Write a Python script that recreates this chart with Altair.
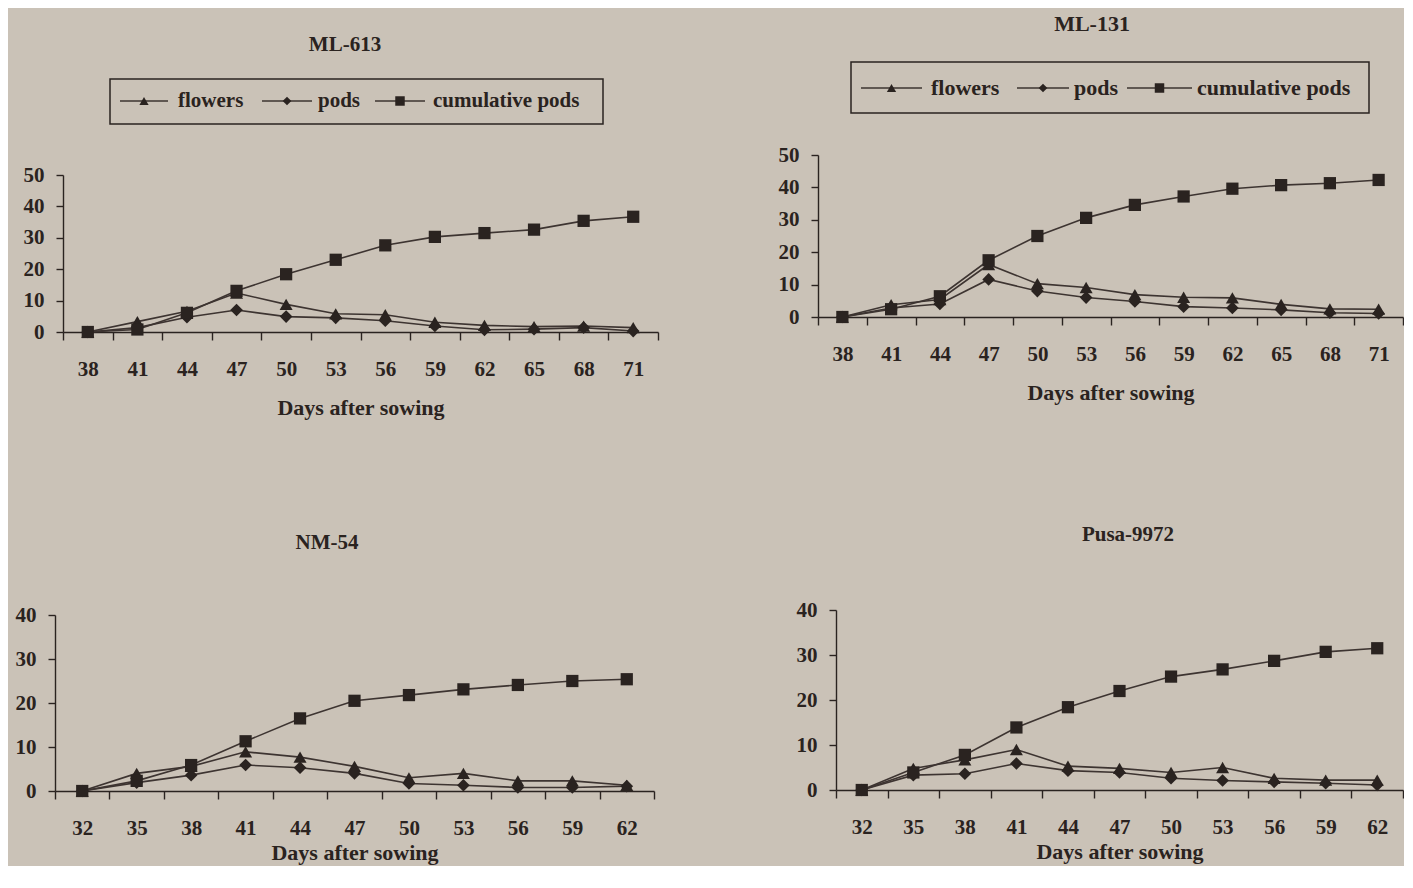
import altair as alt
import pandas as pd

# ---------------- data ----------------
SERIES = ["flowers", "pods", "cumulative pods"]
SHAPES = ["triangle-up", "diamond", "square"]

days_ml = [38, 41, 44, 47, 50, 53, 56, 59, 62, 65, 68, 71]
days_nm = [32, 35, 38, 41, 44, 47, 50, 53, 56, 59, 62]

ml613_flowers = [0, 3.3, 6.6, 12.4, 8.8, 5.8, 5.5, 3.1, 2.1, 1.7, 1.9, 1.4]
ml613_pods = [0, 1.4, 4.7, 7.0, 4.9, 4.5, 3.6, 1.9, 0.7, 0.9, 1.4, 0.3]
ml613_cumulative = [0, 0.8, 6.1, 13.1, 18.4, 23.0, 27.6, 30.3, 31.5, 32.6, 35.4, 36.7]

ml131_flowers = [0, 3.8, 5.4, 16.2, 10.3, 9.1, 6.9, 6.1, 5.9, 3.9, 2.5, 2.4]
ml131_pods = [0, 2.8, 4.0, 11.6, 8.0, 6.0, 4.8, 3.2, 2.8, 2.2, 1.3, 1.1]
ml131_cumulative = [0, 2.4, 6.4, 17.5, 25.0, 30.6, 34.6, 37.2, 39.6, 40.7, 41.3, 42.3]

nm54_flowers = [0, 4.0, 5.6, 8.9, 7.7, 5.6, 3.0, 4.0, 2.3, 2.3, 1.3]
nm54_pods = [0, 1.9, 3.6, 5.9, 5.3, 4.0, 1.7, 1.3, 0.8, 0.8, 1.1]
nm54_cumulative = [0, 2.3, 5.9, 11.3, 16.5, 20.5, 21.8, 23.1, 24.1, 25.0, 25.4]

pusa_flowers = [0, 4.8, 6.7, 9.0, 5.3, 4.8, 3.9, 5.0, 2.6, 2.2, 2.2]
pusa_pods = [0, 3.3, 3.6, 5.9, 4.3, 3.9, 2.6, 2.1, 1.8, 1.5, 1.1]
pusa_cumulative = [0, 3.9, 7.8, 13.9, 18.4, 22.0, 25.2, 26.8, 28.7, 30.7, 31.5]

# ---------------- styling ----------------
FONT = "Liberation Serif"
BG = "#cac2b7"
INK = "#2a2320"
LINE = "#3d3431"
SIZES = [170, 150, 150]
LEG_SIZES = [85, 75, 90]


def long_df(days, series_values):
    rows = []
    for name, vals in zip(SERIES, series_values):
        for d, v in zip(days, vals):
            rows.append({"day": d, "series": name, "value": v})
    return pd.DataFrame(rows)


def legend_layers(box, cy, items, fs):
    out = [
        alt.Chart(pd.DataFrame({"b": [0]}))
        .mark_rect(fillOpacity=0, stroke=INK, strokeWidth=1.5)
        .encode(x=alt.value(box[0]), x2=alt.value(box[1]),
                y=alt.value(box[2]), y2=alt.value(box[3]))
    ]
    for name, shape, size, (r0, r1, tx) in zip(SERIES, SHAPES, LEG_SIZES, items):
        one = pd.DataFrame({"series": [name]})
        out.append(
            alt.Chart(one).mark_rule(color=LINE, strokeWidth=1.6)
            .encode(x=alt.value(r0), x2=alt.value(r1), y=alt.value(cy))
        )
        out.append(
            alt.Chart(one).mark_point(shape=shape, size=size, filled=True,
                                      color=INK, opacity=1)
            .encode(x=alt.value((r0 + r1) / 2), y=alt.value(cy))
        )
        out.append(
            alt.Chart(one).mark_text(align="left", baseline="middle", font=FONT,
                                     fontSize=fs, fontWeight="bold", color=INK)
            .encode(x=alt.value(tx), y=alt.value(cy), text="series:N")
        )
    return out


def panel(name, days, values, ymax, W, H, xr, yr, title_pos, title_size,
          axis_title_pad, legend=None):
    df = long_df(days, values)
    x_enc = alt.X(
        "day:O", sort=days, title="Days after sowing",
        scale=alt.Scale(type="band", domain=days, range=xr,
                        paddingInner=0, paddingOuter=0),
        axis=alt.Axis(tickBand="extent", offset=-(H - yr[0]), labelAngle=0,
                      titlePadding=axis_title_pad),
    )
    y_enc = alt.Y(
        "value:Q", title=None,
        scale=alt.Scale(domain=[0, ymax], range=yr, nice=False),
        axis=alt.Axis(values=list(range(0, ymax + 1, 10)), offset=-xr[0],
                      grid=False),
    )
    lines = alt.Chart(df).mark_line(color=LINE, strokeWidth=1.6).encode(
        x=x_enc, y=y_enc, detail="series:N"
    )
    pts = alt.Chart(df).mark_point(filled=True, color=INK, opacity=1).encode(
        x=x_enc, y=y_enc,
        shape=alt.Shape("series:N", scale=alt.Scale(domain=SERIES, range=SHAPES),
                        legend=None),
        size=alt.Size("series:N", scale=alt.Scale(domain=SERIES, range=SIZES),
                      legend=None),
    )
    title_layer = alt.Chart(pd.DataFrame({"t": [name]})).mark_text(
        font=FONT, fontSize=title_size, fontWeight="bold", color=INK,
        align="center", baseline="middle",
    ).encode(x=alt.value(title_pos[0]), y=alt.value(title_pos[1]), text="t:N")
    layers = [lines, pts, title_layer]
    if legend is not None:
        layers += legend_layers(*legend)
    return alt.layer(*layers).properties(width=W, height=H)


pA = panel("ML-613", days_ml, [ml613_flowers, ml613_pods, ml613_cumulative], 50,
           603, 277, [8, 603], [277, 120], (290, -10), 21, 18,
           legend=([55, 548, 24, 69], 46,
                   [(65, 113, 123), (207, 257, 263), (320, 370, 378)], 21))
pB = panel("ML-131", days_ml, [ml131_flowers, ml131_pods, ml131_cumulative], 50,
           585, 277, [0, 585], [262, 100], (274, -31), 22, 18,
           legend=([33, 551, 7, 58], 33,
                   [(43, 104, 113), (199, 251, 256), (309, 374, 379)], 22))
pC = panel("NM-54", days_nm, [nm54_flowers, nm54_pods, nm54_cumulative], 40,
           603, 191, [0, 599], [191, 15], (272, -57), 21, 4)
pD = panel("Pusa-9972", days_nm, [pusa_flowers, pusa_pods, pusa_cumulative], 40,
           585, 191, [18, 585], [190, 10], (310, -65), 21, 4)

chart = (
    alt.concat(pA, pB, pC, pD, columns=2,
               spacing={"row": 268, "column": 160}, bounds="flush", align="each")
    .properties(background=BG,
                padding={"left": 7, "top": 5, "right": 0, "bottom": 3})
    .configure_view(strokeWidth=0)
    .configure_axis(
        domainColor=INK, domainWidth=1.4, tickColor=INK, tickWidth=1.4,
        labelFont=FONT, labelFontSize=21, labelFontWeight="bold", labelColor=INK,
        titleFont=FONT, titleFontSize=22, titleFontWeight="bold", titleColor=INK,
    )
    .configure_axisX(tickSize=8, labelPadding=18)
    .configure_axisY(tickSize=7, labelPadding=12)
)

chart.save("out.html", embed_options={"renderer": "svg", "actions": False})
